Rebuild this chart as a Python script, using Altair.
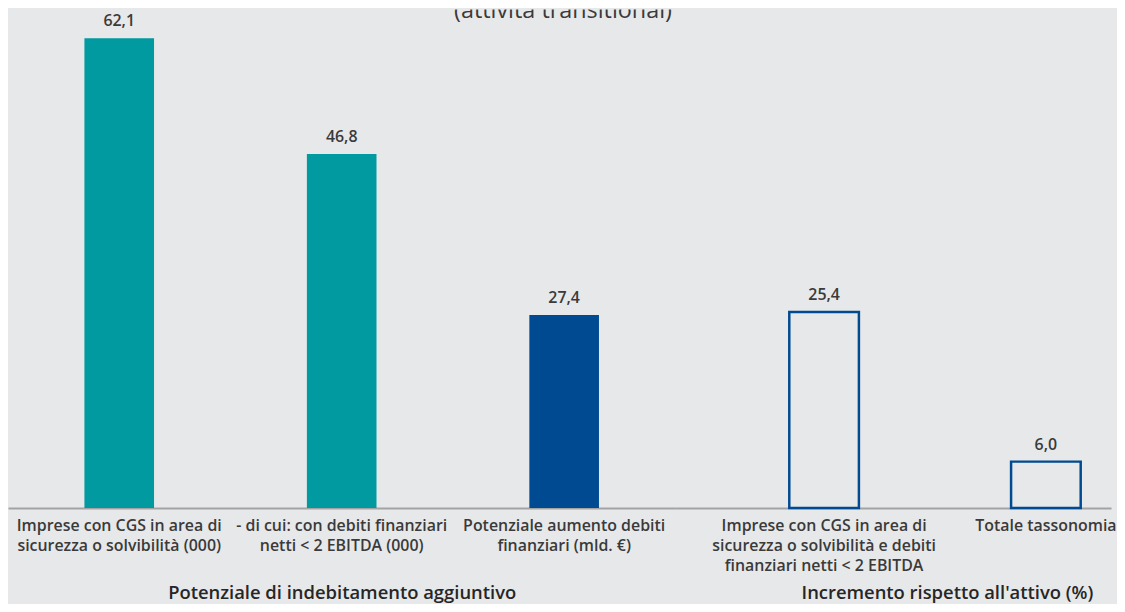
import altair as alt
import pandas as pd

# ---- data ----
left_categories = [
    "Imprese con CGS in area di|sicurezza o solvibilità (000)",
    "- di cui: con debiti finanziari|netti < 2 EBITDA (000)",
    "Potenziale aumento debiti|finanziari (mld. €)",
]
left_values = [62.1, 46.8, 27.4]
left_series = ["count", "count", "amount"]

right_categories = [
    "Imprese con CGS in area di|sicurezza o solvibilità e debiti|finanziari netti < 2 EBITDA",
    "Totale tassonomia",
]
right_values = [25.4, 6.0]

left_axis_title = "Potenziale di indebitamento aggiuntivo"
right_axis_title = "Incremento rispetto all'attivo (%)"
chart_title = "(attività transitional)"

# ---- styling ----
BG = "#e7e8e9"
TEAL = "#009aa0"
BLUE = "#004a91"
TEXT = "#3a3a3a"
FONT = "Open Sans"


def fmt(v):
    return f"{v:.1f}".replace(".", ",")


left_df = pd.DataFrame({"cat": left_categories, "value": left_values, "series": left_series})
left_df["label"] = [fmt(v) for v in left_values]
right_df = pd.DataFrame({"cat": right_categories, "value": right_values})
right_df["label"] = [fmt(v) for v in right_values]

axis_common = dict(
    labelExpr="split(datum.label, '|')",
    labelAngle=0,
    labelFont=FONT,
    labelFontSize=16,
    labelFontWeight=600,
    labelColor=TEXT,
    labelLimit=400,
    labelLineHeight=20,
    labelPadding=10,
    labelBaseline="top",
    ticks=False,
    domainColor="#a3a3a3",
    domainWidth=2,
    titleFont=FONT,
    titleFontSize=18.5,
    titleFontWeight=600,
    titleColor="#262626",
    titleBaseline="middle",
    titleY=85,
)

x_left = alt.X(
    "cat:N",
    sort=left_categories,
    scale=alt.Scale(paddingInner=0, paddingOuter=0),
    axis=alt.Axis(title=left_axis_title, **axis_common),
)

label_style = dict(dy=-12, baseline="alphabetic", font=FONT, fontSize=16, fontWeight=600, color=TEXT)

count_base = alt.Chart(left_df).transform_filter(alt.datum.series == "count")
count_y = alt.Y("value:Q", scale=alt.Scale(domain=[0, 65.9]), axis=None)
count_layer = alt.layer(
    count_base.mark_bar(size=70, color=TEAL).encode(x=x_left, y=count_y),
    count_base.mark_text(**label_style).encode(x=x_left, y=count_y, text="label:N"),
)

amount_base = alt.Chart(left_df).transform_filter(alt.datum.series == "amount")
amount_y = alt.Y("value:Q", scale=alt.Scale(domain=[0, 70.8]), axis=None)
amount_layer = alt.layer(
    amount_base.mark_bar(size=70, color=BLUE).encode(x=x_left, y=amount_y),
    amount_base.mark_text(**label_style).encode(x=x_left, y=amount_y, text="label:N"),
)

title_layer = alt.Chart(pd.DataFrame({"t": [chart_title]})).mark_text(
    clip=True, font=FONT, fontSize=23.5, color=TEXT, baseline="alphabetic", align="center"
).encode(x=alt.value(558), y=alt.value(8), text="t:N")

left = alt.layer(count_layer, amount_layer, title_layer).resolve_scale(y="independent").properties(
    width=671, height=501
)

x_right = alt.X(
    "cat:N",
    sort=right_categories,
    scale=alt.Scale(paddingInner=0.5, paddingOuter=0.2321, align=0.9058),
    axis=alt.Axis(title=right_axis_title, titleX=273, labelFlush=80, **axis_common),
)
right_y = alt.Y("value:Q", scale=alt.Scale(domain=[0, 64.6]), axis=None)
right_base = alt.Chart(right_df)
right = alt.layer(
    right_base.mark_bar(size=70, fill=BG, stroke=BLUE, strokeWidth=2.5).encode(x=x_right, y=right_y),
    right_base.mark_text(**label_style).encode(x=x_right, y=right_y, text="label:N"),
).properties(width=438, height=501)

chart = (
    alt.hconcat(left, right, spacing=0, bounds="flush")
    .properties(padding=0, background=BG)
    .configure_view(strokeWidth=0)
)

chart.save("out.html", embed_options={"renderer": "svg", "actions": False})
